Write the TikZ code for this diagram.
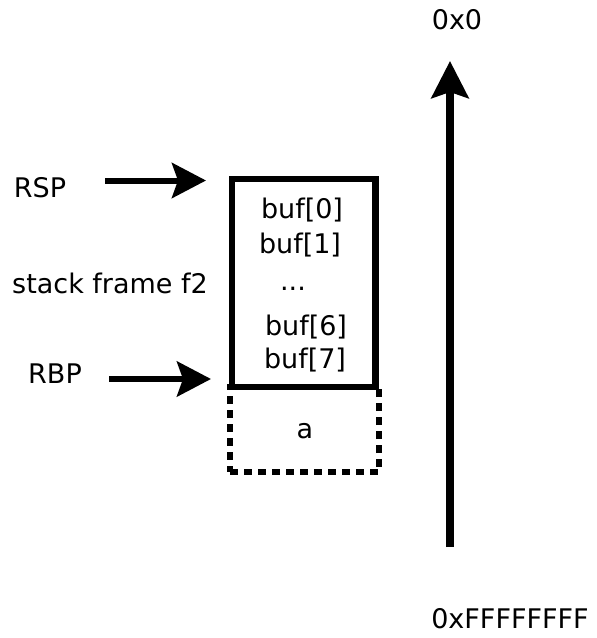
\documentclass[tikz,border=0pt]{standalone}
\usepackage{fontspec}
\setmainfont{DejaVu Sans}
\usetikzlibrary{arrows.meta}
\begin{document}
\begin{tikzpicture}[x=1pt,y=-1pt,
  lbl/.style={inner sep=0pt,anchor=base,font=\fontsize{27}{31}\selectfont},
  framebox/.style={draw,line width=6.5pt,inner sep=0pt},
  slotbox/.style={draw,line width=5.5pt,dash pattern=on 8pt off 6pt,inner sep=0pt},
  ptr/.style={line width=6pt,-{Stealth[length=34pt,width=35pt,inset=6pt]}},
  addr/.style={line width=7.5pt,-{Stealth[length=37pt,width=37pt,inset=6pt]}}]
\useasboundingbox (0,0) rectangle (597,638);

% stack slots
\node[slotbox,minimum width=149pt,minimum height=85pt] (slot) at (304.5,429.5) {};
\node[framebox,minimum width=143.5pt,minimum height=208pt] (frame) at (303.75,283) {};

% contents of the frame
\node[lbl] (b0) at (302,218) {buf[0]};
\node[lbl] (b1) at (300,253) {buf[1]};
\node[lbl] (dots) at (293,290) {...};
\node[lbl] (b6) at (306,335) {buf[6]};
\node[lbl] (b7) at (305,368) {buf[7]};
\node[lbl] (va) at (305,438) {a};

% register pointers
\node[lbl] (rsp) at (40,197) {RSP};
\node[lbl] (sf) at (110,293) {stack frame f2};
\node[lbl] (rbp) at (55,383) {RBP};
\coordinate (rspA) at (105,180.5);
\coordinate (rspB) at (206,180.5);
\coordinate (rbpA) at (109,379);
\coordinate (rbpB) at (211,379);
\draw[ptr] (rspA) -- (rspB);
\draw[ptr] (rbpA) -- (rbpB);

% address axis
\node[lbl] (lo) at (457,29) {0x0};
\node[lbl] (hi) at (510,628) {0xFFFFFFFF};
\coordinate (axB) at (450,547);
\coordinate (axT) at (450,61);
\draw[addr] (axB) -- (axT);
\end{tikzpicture}
\end{document}
